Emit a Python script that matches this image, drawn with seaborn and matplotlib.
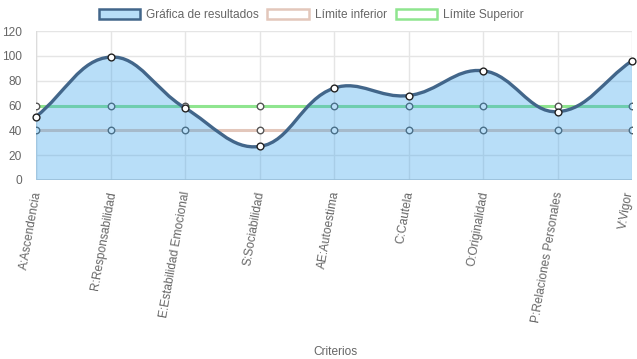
import numpy as np
import matplotlib
matplotlib.use("Agg")
import matplotlib.pyplot as plt
from matplotlib.path import Path
from matplotlib.patches import PathPatch, Patch
from matplotlib.transforms import ScaledTranslation
import seaborn as sns

criterios = ["A:Ascendencia", "R:Responsabilidad", "E:Estabilidad Emocional",
             "S:Sociabilidad", "AE:Autoestima", "C:Cautela", "O:Originalidad",
             "P:Relaciones Personales", "V:Vigor"]
resultados = [51, 99, 58, 27, 74, 68, 88, 55, 96]
limite_inferior = [40, 40, 40, 40, 40, 40, 40, 40, 40]
limite_superior = [60, 60, 60, 60, 60, 60, 60, 60, 60]

sns.set_style("white")
plt.rcParams["font.family"] = ["Liberation Sans", "DejaVu Sans"]

GRAY = "#666666"
LINE = "#42668a"
FILL = (54 / 255, 162 / 255, 235 / 255, 0.35)
LOW = "#e3c7bb"
UP = "#8fe58f"

fig = plt.figure(figsize=(6.37, 3.59), dpi=100)
ax = fig.add_axes([36 / 637, 1 - 180 / 359, (632 - 36) / 637, (180 - 31) / 359])

x = np.arange(len(criterios))
y = np.array(resultados, dtype=float)

# chart.js-like bezier control points (tension 0.4), distances in pixel units
sx, sy = 74.5, 1.242
tension = 0.4
cp_prev, cp_next = [], []
for i in range(len(x)):
    p = np.array([x[i], y[i]])
    a = np.array([x[max(i - 1, 0)], y[max(i - 1, 0)]])
    b = np.array([x[min(i + 1, len(x) - 1)], y[min(i + 1, len(x) - 1)]])
    d01 = np.hypot((p[0] - a[0]) * sx, (p[1] - a[1]) * sy)
    d12 = np.hypot((b[0] - p[0]) * sx, (b[1] - p[1]) * sy)
    tot = d01 + d12
    s01 = d01 / tot if tot else 0
    s12 = d12 / tot if tot else 0
    cp_prev.append(p - tension * s01 * (b - a))
    cp_next.append(p + tension * s12 * (b - a))

verts = [(x[0], y[0])]
codes = [Path.MOVETO]
for i in range(len(x) - 1):
    verts += [tuple(cp_next[i]), tuple(cp_prev[i + 1]), (x[i + 1], y[i + 1])]
    codes += [Path.CURVE4] * 3
fill_verts = verts + [(x[-1], 0), (x[0], 0), (x[0], y[0])]
fill_codes = codes + [Path.LINETO, Path.LINETO, Path.LINETO]

# limit lines (drawn beneath the filled area)
sns.lineplot(x=x, y=limite_superior, ax=ax, color=UP, lw=2.2, zorder=2)
sns.lineplot(x=x, y=limite_inferior, ax=ax, color=LOW, lw=2.2, zorder=2)
for vals in (limite_superior, limite_inferior):
    ax.scatter(x, vals, s=22, facecolor="white", edgecolor="#555555", lw=1.0, zorder=3)

ax.add_patch(PathPatch(Path(fill_verts, fill_codes), facecolor=FILL, edgecolor="none", zorder=4))
ax.add_patch(PathPatch(Path(verts, codes), facecolor="none", edgecolor=LINE, lw=2.4, zorder=5))
ax.scatter(x, y, s=24, facecolor="white", edgecolor="#222222", lw=1.0, zorder=6, clip_on=False)

ax.set_xlim(0, len(x) - 1)
ax.set_ylim(0, 120)
ax.set_yticks(range(0, 121, 20))
ax.set_xticks(x)
ax.set_xticklabels(criterios, rotation=80, ha="right", va="center_baseline",
                   rotation_mode="anchor")
ax.grid(True, color="#e5e5e5", lw=1.0)
ax.set_axisbelow(True)
for s in ax.spines.values():
    s.set_visible(False)
ax.axhline(0, color="#cfcfcf", lw=1.2, zorder=1)
ax.axvline(0, color="#dcdcdc", lw=1.0, zorder=1)
ax.tick_params(axis="both", colors=GRAY, labelsize=8.6, length=7, color="#e5e5e5")
ax.tick_params(axis="x", pad=1)
ax.tick_params(axis="y", pad=3)
ax.set_xlabel("Criterios", color=GRAY, fontsize=8.6)
ax.xaxis.set_label_coords((335 - 36) / (632 - 36), -(346 - 180) / (180 - 31))

# nudge the last label so it stays inside the canvas
last = ax.get_xticklabels()[-1]
last.set_transform(last.get_transform() + ScaledTranslation(-0.04, 0, fig.dpi_scale_trans))

handles = [
    Patch(facecolor=FILL, edgecolor=LINE, lw=1.8, label="Gráfica de resultados"),
    Patch(facecolor="white", edgecolor=LOW, lw=1.8, label="Límite inferior"),
    Patch(facecolor="white", edgecolor=UP, lw=1.8, label="Límite Superior"),
]
leg = fig.legend(handles=handles, loc="center", bbox_to_anchor=(311 / 637, 1 - 15 / 359),
                 ncol=3, frameon=False, fontsize=8.6, handlelength=3.5, handleheight=1.0,
                 handletextpad=0.45, columnspacing=0.75)
for t in leg.get_texts():
    t.set_color(GRAY)

fig.savefig("out.png", dpi=100)
